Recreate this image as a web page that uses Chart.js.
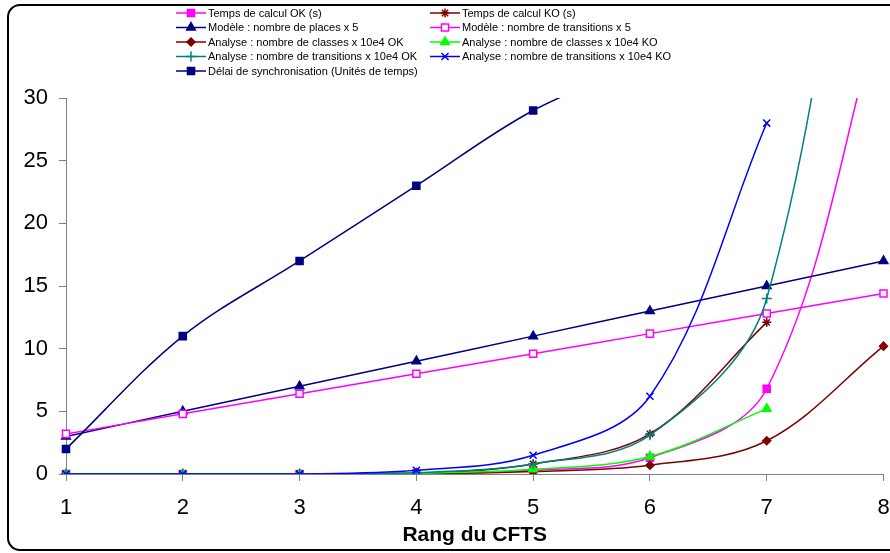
<!DOCTYPE html>
<html>
<head>
<meta charset="utf-8">
<script src="https://cdn.jsdelivr.net/npm/chart.js@4"></script>
<style>
  html, body { margin: 0; padding: 0; background: #fff; }
  #wrap { width: 890px; height: 553px; position: relative; }
</style>
</head>
<body>
<div id="wrap"><canvas id="myChart" width="890" height="553"></canvas></div>
<script>
// data
const rang = ['1', '2', '3', '4', '5', '6', '7', '8'];
const yTicks = [0, 5, 10, 15, 20, 25, 30];

const tempsOK = [0, 0, 0, 0.05, 0.3, 1.3, 6.8, 38];
const tempsKO = [0, 0, 0, 0.05, 0.8, 3.2, 12.1];
const placesX5 = [3, 5, 7, 9, 11, 13, 15, 17];
const transitionsX5 = [3.2, 4.8, 6.4, 8, 9.6, 11.2, 12.8, 14.4];
const classesOK = [0, 0, 0, 0.02, 0.2, 0.7, 2.65, 10.2];
const classesKO = [0, 0, 0, 0.05, 0.37, 1.4, 5.2];
const transOK = [0, 0, 0, 0.1, 0.8, 3.1, 14, 70];
const transKO = [0, 0, 0, 0.3, 1.5, 6.2, 28];
const delai = [2, 11, 17, 23, 29, 33, 37, 41];

const FONT = "'Liberation Sans', Arial, sans-serif";

// marker size per style, roughly as excel draws them
const markerSize = { rect: 5, triangle: 5, rectRot: 4, star: 4.5, cross: 5, crossRot: 5 };

function serie(label, data, color, style, fill) {
  return {
    label: label,
    data: data,
    borderColor: color,
    backgroundColor: fill || color,
    pointBorderColor: color,
    pointBackgroundColor: fill || color,
    pointStyle: style,
    pointRadius: markerSize[style],
    pointBorderWidth: 1.5,
    borderWidth: 1.5,
    tension: 0.35,
    fill: false
  };
}

const datasets = [
  serie('Temps de calcul OK (s)', tempsOK, '#FF00FF', 'rect'),
  serie('Temps de calcul KO (s)', tempsKO, '#800000', 'star'),
  serie('Modèle : nombre de places x 5', placesX5, '#000080', 'triangle'),
  serie('Modèle : nombre de transitions x 5', transitionsX5, '#FF00FF', 'rect', '#FFFFFF'),
  serie('Analyse : nombre de classes x 10e4 OK', classesOK, '#800000', 'rectRot'),
  serie('Analyse : nombre de classes x 10e4 KO', classesKO, '#00FF00', 'triangle'),
  serie('Analyse : nombre de transitions x 10e4 OK', transOK, '#008080', 'cross'),
  serie('Analyse : nombre de transitions x 10e4 KO', transKO, '#0000FF', 'crossRot'),
  serie('Délai de synchronisation (Unités de temps)', delai, '#000080', 'rect')
];
// later series drawn on top, like the original
datasets.forEach((d, i) => { d.order = datasets.length - i; });

// frame round the whole chart
const framePlugin = {
  id: 'frame',
  afterDraw(chart) {
    const ctx = chart.ctx;
    ctx.save();
    ctx.strokeStyle = '#000';
    ctx.lineWidth = 2;
    ctx.beginPath();
    ctx.roundRect(8, 5, 900, 545, 12);
    ctx.stroke();
    ctx.restore();
  }
};

// two column legend like the excel one
const legendPlugin = {
  id: 'twoColLegend',
  afterDraw(chart) {
    const ctx = chart.ctx;
    const cols = [176, 430];
    const rowY = [13, 27.5, 42, 56.5, 71];
    ctx.save();
    ctx.font = '11px ' + FONT;
    ctx.textBaseline = 'middle';
    chart.data.datasets.forEach((ds, i) => {
      const x = cols[i % 2];
      const y = rowY[Math.floor(i / 2)];
      ctx.strokeStyle = ds.borderColor;
      ctx.lineWidth = 1.5;
      ctx.beginPath();
      ctx.moveTo(x, y);
      ctx.lineTo(x + 30, y);
      ctx.stroke();
      ctx.fillStyle = ds.pointBackgroundColor;
      ctx.strokeStyle = ds.pointBorderColor;
      Chart.helpers.drawPoint(ctx, {
        pointStyle: ds.pointStyle,
        radius: ds.pointRadius,
        borderWidth: 1.5,
        rotation: 0
      }, x + 15, y);
      ctx.fillStyle = '#000';
      ctx.fillText(ds.label, x + 32, y + 0.5);
    });
    ctx.restore();
  }
};

const ctx = document.getElementById('myChart').getContext('2d');
const cftsChart = new Chart(ctx, {
  type: 'line',
  data: { labels: rang, datasets: datasets },
  plugins: [framePlugin, legendPlugin],
  options: {
    responsive: false,
    animation: false,
    layout: { padding: { top: 98, right: 0, left: 0, bottom: 0 } },
    plugins: { legend: { display: false }, tooltip: { enabled: false } },
    scales: {
      x: {
        offset: false,
        afterFit(scale) {
          scale.height = 79;
          scale.paddingLeft = 0;
          scale.paddingRight = 4;
        },
        grid: { drawOnChartArea: false, tickLength: 7, color: '#808080' },
        border: { color: '#808080', width: 1 },
        ticks: { color: '#000', font: { family: FONT, size: 22 }, padding: 14, maxRotation: 0 },
        title: {
          display: true, text: 'Rang du CFTS', color: '#000',
          font: { family: FONT, size: 21, weight: 'bold' },
          padding: { top: 0, bottom: 5 }
        }
      },
      y: {
        min: 0, max: 30,
        afterFit(scale) {
          scale.width = 66;
          scale.paddingTop = 0;
          scale.paddingBottom = 0;
        },
        afterBuildTicks(scale) { scale.ticks = yTicks.map(v => ({ value: v })); },
        grid: { drawOnChartArea: false, tickLength: 7, color: '#808080' },
        border: { color: '#808080', width: 1 },
        ticks: { color: '#000', font: { family: FONT, size: 22 }, padding: 11 }
      }
    }
  }
});
</script>
</body>
</html>
